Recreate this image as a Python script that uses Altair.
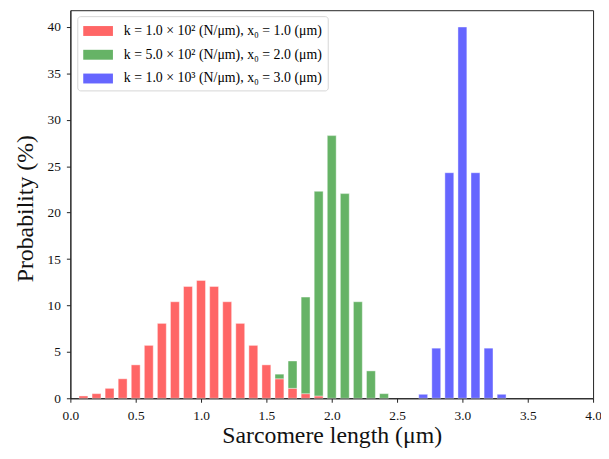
import altair as alt
import pandas as pd

# Series data (bin centre in µm, probability in %)
red_x = [0.1, 0.2, 0.3, 0.4, 0.5, 0.6, 0.7, 0.8, 0.9, 1.0, 1.1, 1.2, 1.3, 1.4, 1.5, 1.6, 1.7, 1.8, 1.9]
red_y = [0.25, 0.5, 1.07, 2.1, 3.6, 5.7, 8.07, 10.4, 12.05, 12.7, 12.05, 10.4, 8.07, 5.7, 3.6, 2.1, 1.07, 0.5, 0.25]

green_x = [1.6, 1.7, 1.8, 1.9, 2.0, 2.1, 2.2, 2.3, 2.4]
green_y = [0.5, 2.95, 10.4, 22.05, 28.3, 22.05, 10.4, 2.95, 0.5]

blue_x = [2.7, 2.8, 2.9, 3.0, 3.1, 3.2, 3.3]
blue_y = [0.43, 5.4, 24.3, 40.0, 24.3, 5.4, 0.43]

labels = [
    "k = 1.0 × 10² (N/μm), x₀ = 1.0 (μm)",
    "k = 5.0 × 10² (N/μm), x₀ = 2.0 (μm)",
    "k = 1.0 × 10³ (N/μm), x₀ = 3.0 (μm)",
]
colors = ["#ff0000", "#008000", "#0000ff"]

x_ticks = [0.0, 0.5, 1.0, 1.5, 2.0, 2.5, 3.0, 3.5, 4.0]
y_ticks = [0, 5, 10, 15, 20, 25, 30, 35, 40]

rows = []
for i, (xs, ys) in enumerate([(red_x, red_y), (green_x, green_y), (blue_x, blue_y)]):
    for xv, yv in zip(xs, ys):
        rows.append({"x": xv, "p": yv, "series": labels[i], "order": i})
df = pd.DataFrame(rows)

FONT = "Liberation Serif"

chart = alt.Chart(df).mark_bar(
    size=9, fillOpacity=0.6, stroke="white", strokeWidth=0.7, strokeOpacity=0.6
).encode(
    x=alt.X("x:Q",
            scale=alt.Scale(domain=[0, 4], nice=False, zero=False, padding=0),
            axis=alt.Axis(values=x_ticks, format=".1f", title="Sarcomere length (μm)",
                          grid=False, tickSize=4, labelPadding=6, labelFlush=False,
                          labelFontSize=13.5, titleFontSize=24, titlePadding=2,
                          titleFontWeight="normal")),
    y=alt.Y("p:Q",
            scale=alt.Scale(domain=[0, 41.81], nice=False, padding=0),
            axis=alt.Axis(values=y_ticks, title="Probability (%)", grid=False,
                          tickSize=4, labelPadding=6, labelFontSize=13.5, labelFlush=False,
                          titleFontSize=24, titlePadding=10, titleY=200,
                          titleFontWeight="normal")),
    color=alt.Color("series:N",
                    scale=alt.Scale(domain=labels, range=colors),
                    legend=alt.Legend(
                        title=None, orient="none", legendX=7, legendY=6,
                        symbolType="M-1.5,-0.5H1.5V0.5H-1.5Z", symbolSize=400,
                        symbolOpacity=0.6, symbolStrokeWidth=0, symbolOffset=6,
                        labelFont=FONT, labelFontSize=14, labelOffset=16,
                        labelLimit=400,
                        rowPadding=7, padding=5,
                        fillColor="white", strokeColor="#d6d6d6", cornerRadius=3,
                    )),
    order=alt.Order("order:Q"),
).properties(
    width=528, height=392,
    padding={"left": 63, "top": 0, "right": 8, "bottom": 49},
    autosize=alt.AutoSizeParams(type="none"),
).configure(
    font=FONT,
).configure_axis(
    labelFont=FONT, titleFont=FONT, domainColor="#222222", tickColor="#222222",
    labelColor="#111111", titleColor="#111111", domainWidth=1, tickWidth=1,
).configure_view(
    stroke="#222222", strokeWidth=1,
)

chart.save("out.html", embed_options={"renderer": "svg", "actions": False})
